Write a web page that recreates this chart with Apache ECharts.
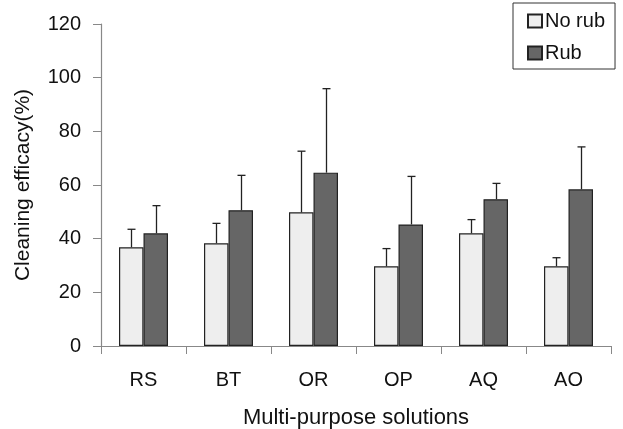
<!DOCTYPE html>
<html><head><meta charset="utf-8">
<script src="https://cdn.jsdelivr.net/npm/echarts@6/dist/echarts.min.js"></script>
<style>html,body{margin:0;padding:0;background:#fff}#c{width:623px;height:429px}</style>
</head><body><div id="c"></div>
<script>
const categories = ['RS','BT','OR','OP','AQ','AO'];
const noRub = [36.8, 38.3, 49.8, 29.7, 42.0, 29.7];
const noRubErr = [6.7, 7.4, 22.8, 6.6, 5.1, 3.2];
const rub = [42.0, 50.6, 64.6, 45.3, 54.7, 58.4];
const rubErr = [10.3, 13.0, 31.3, 17.9, 5.9, 15.8];
const yTicks = [0, 20, 40, 60, 80, 100, 120];

const BAR_W = 24.5;
function errSeries(vals, errs, offset) {
  return {
    type: 'custom',
    silent: true,
    z: 5,
    data: vals.map((v, i) => [i, v, v + errs[i]]),
    renderItem: function (params, api) {
      const b = api.coord([api.value(0), api.value(1)]);
      const t = api.coord([api.value(0), api.value(2)]);
      const x = Math.round(b[0] + offset) + 0.5;
      const st = { stroke: '#222', lineWidth: 1.3 };
      return { type: 'group', children: [
        { type: 'line', shape: { x1: x, y1: b[1], x2: x, y2: t[1] }, style: st },
        { type: 'line', shape: { x1: x - 4, y1: t[1], x2: x + 4, y2: t[1] }, style: st }
      ]};
    }
  };
}

const chart = echarts.init(document.getElementById('c'));
chart.setOption({
  animation: false,
  textStyle: { fontFamily: 'Liberation Sans, Arial, sans-serif' },
  grid: { left: 101, right: 12, top: 24, bottom: 83, outerBoundsMode: 'none', containLabel: false },
  legend: {
    orient: 'vertical', left: 513, top: 3, width: 95,
    padding: [8, 10, 6, 14],
    borderColor: '#333', borderWidth: 1, borderRadius: 0,
    icon: 'rect',
    itemWidth: 14, itemHeight: 13, itemGap: 12,
    textStyle: { fontSize: 20, color: '#111', padding: [0, 0, 0, -2] },
    data: ['No rub', 'Rub']
  },
  xAxis: {
    type: 'category', data: categories,
    name: 'Multi-purpose solutions', nameLocation: 'middle', nameGap: 61,
    nameTextStyle: { fontSize: 22, color: '#111' },
    axisLine: { lineStyle: { color: '#888', width: 1.2 } },
    axisTick: { show: true, length: 8, lineStyle: { color: '#888' } },
    axisLabel: { fontSize: 20, color: '#111', margin: 24 },
    splitLine: { show: false }
  },
  yAxis: {
    type: 'value', min: 0, max: 120, interval: 20,
    name: 'Cleaning efficacy(%)', nameLocation: 'middle', nameGap: 67,
    nameTextStyle: { fontSize: 21, color: '#111' },
    axisLine: { show: true, lineStyle: { color: '#888', width: 1.2 } },
    axisTick: { show: true, length: 8, lineStyle: { color: '#888' } },
    axisLabel: { fontSize: 20, color: '#111', margin: 20,
      formatter: v => yTicks.includes(v) ? String(v) : '' },
    splitLine: { show: false }
  },
  series: [
    { name: 'No rub', type: 'bar', data: noRub, barWidth: BAR_W, barGap: 0,
      itemStyle: { color: '#eeeeee', borderColor: '#222', borderWidth: 1.2 } },
    { name: 'Rub', type: 'bar', data: rub, barWidth: BAR_W, barGap: 0,
      itemStyle: { color: '#666666', borderColor: '#222', borderWidth: 1.2 } },
    errSeries(noRub, noRubErr, -12.25),
    errSeries(rub, rubErr, 12.25)
  ]
});
</script></body></html>
